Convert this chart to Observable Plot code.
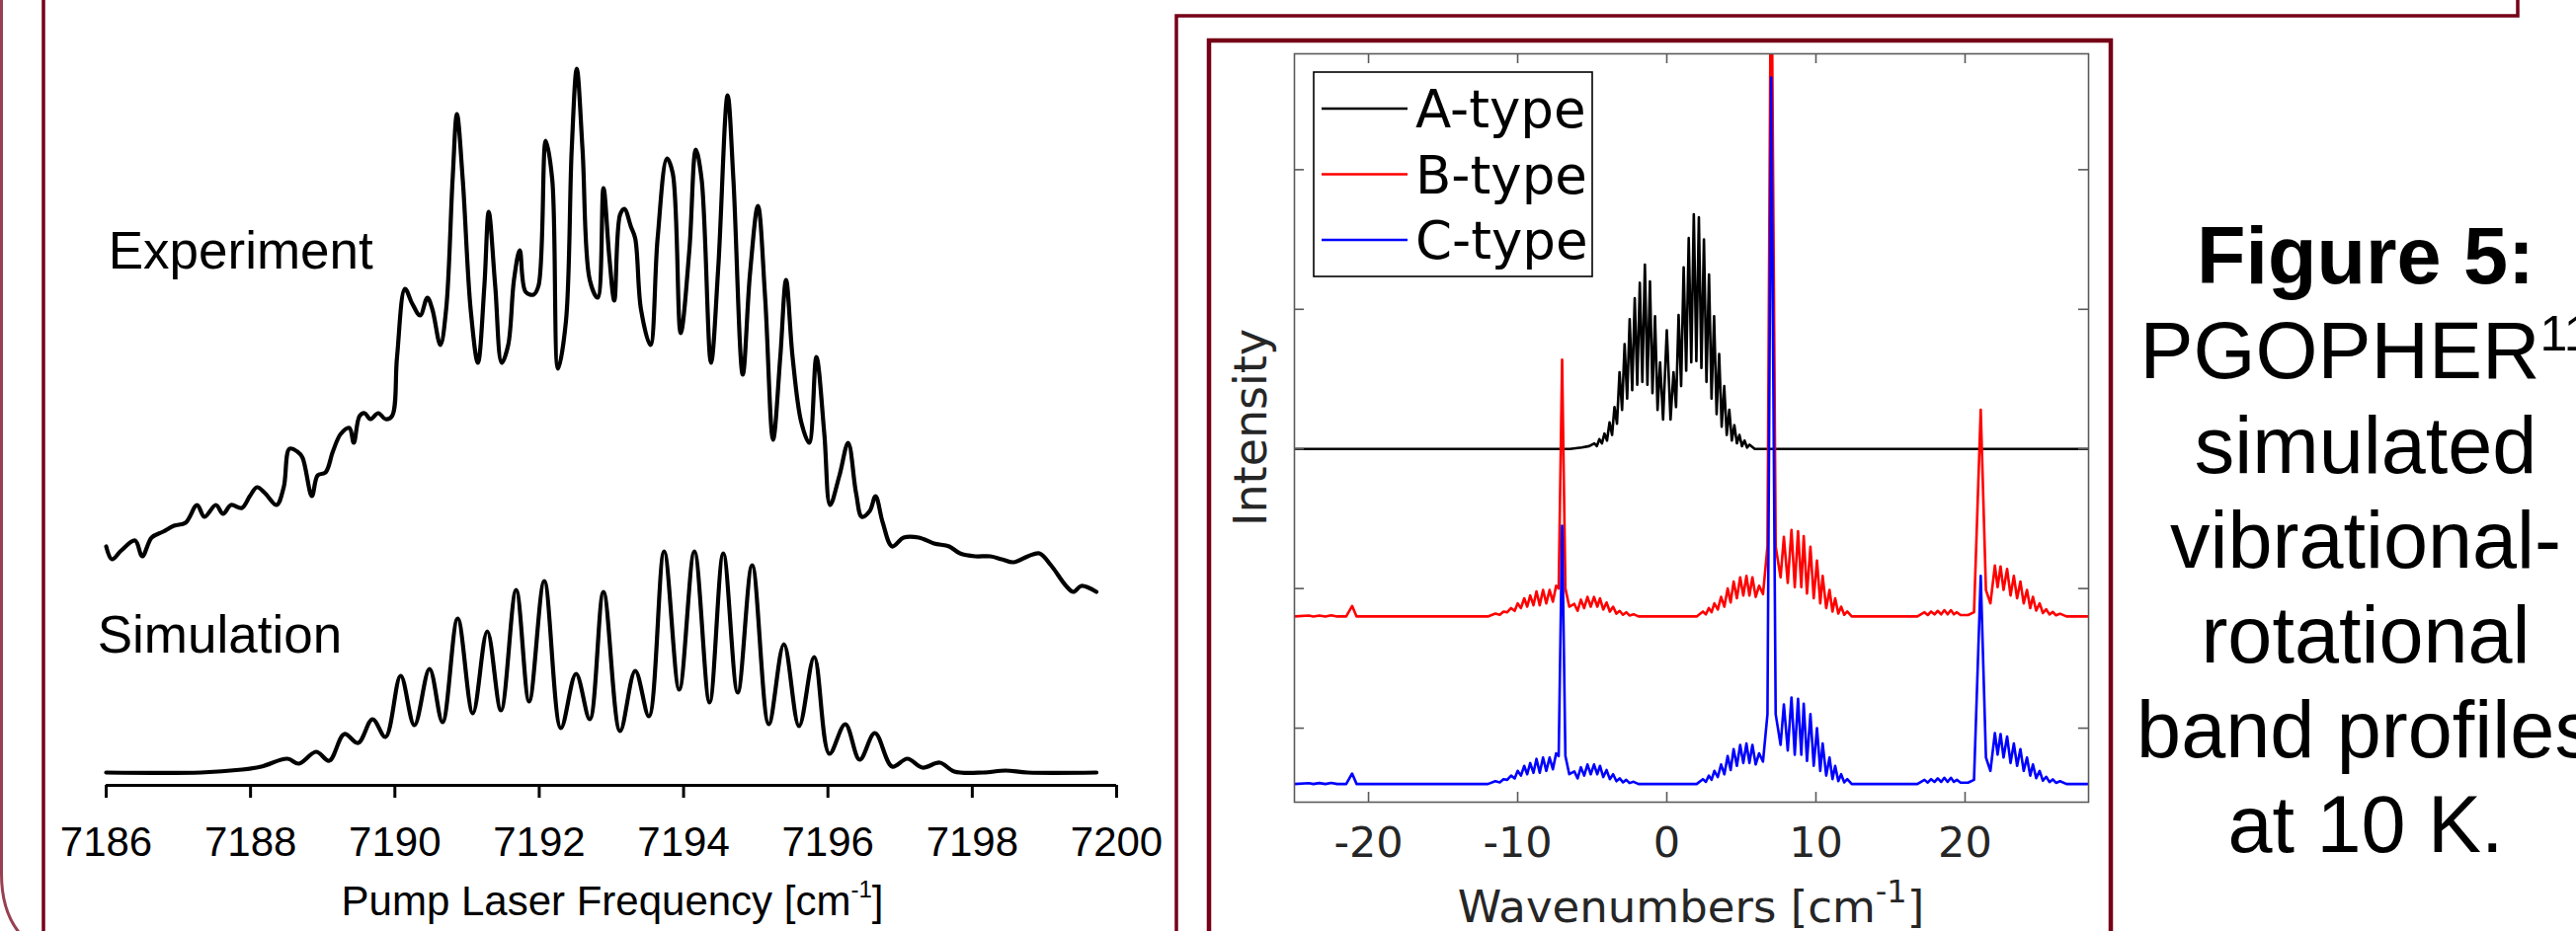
<!DOCTYPE html>
<html><head><meta charset="utf-8">
<script src="https://cdn.jsdelivr.net/npm/d3@7"></script>
<script src="https://cdn.jsdelivr.net/npm/@observablehq/plot@0.6"></script>
<style>
html,body{margin:0;padding:0;background:#fff;}
#page{position:relative;width:2608px;height:943px;overflow:hidden;background:#fff;}
#caption{position:absolute;left:2145px;width:500px;top:211px;text-align:center;font-family:"Liberation Sans",Arial,sans-serif;font-size:81px;line-height:96px;color:#000;white-space:nowrap;}
#caption sup{font-size:50px;line-height:0;vertical-align:super;}
</style></head><body><div id="page"></div>
<script>
// ---------- Left figure: experiment vs simulation ----------
const pumpTicks = [7186,7188,7190,7192,7194,7196,7198,7200];
const traceNames = ["Experiment","Simulation"];
const traceLabelX = [7186.03, 7185.88];
const traceLabelY = [5.27, 1.38];
const experiment = [[7186.00,2.29],[7186.08,2.16],[7186.21,2.25],[7186.40,2.35],[7186.50,2.19],[7186.63,2.38],[7186.79,2.44],[7186.94,2.50],[7187.10,2.53],[7187.26,2.71],[7187.36,2.59],[7187.52,2.71],[7187.62,2.62],[7187.73,2.71],[7187.88,2.68],[7187.99,2.80],[7188.09,2.89],[7188.20,2.83],[7188.36,2.71],[7188.46,2.89],[7188.54,3.28],[7188.65,3.25],[7188.72,3.19],[7188.85,2.80],[7188.93,3.01],[7189.04,3.04],[7189.14,3.25],[7189.25,3.43],[7189.37,3.49],[7189.43,3.34],[7189.51,3.61],[7189.58,3.64],[7189.66,3.58],[7189.77,3.64],[7189.87,3.58],[7189.96,3.61],[7190.03,4.21],[7190.14,4.90],[7190.24,4.75],[7190.35,4.63],[7190.45,4.81],[7190.52,4.69],[7190.63,4.33],[7190.71,4.69],[7190.80,6.01],[7190.86,6.67],[7190.94,6.01],[7191.05,4.69],[7191.15,4.15],[7191.24,4.93],[7191.30,5.68],[7191.39,4.93],[7191.48,4.15],[7191.57,4.33],[7191.65,4.99],[7191.73,5.29],[7191.81,4.87],[7191.92,4.84],[7191.99,4.93],[7192.09,6.40],[7192.18,6.01],[7192.26,4.09],[7192.37,4.57],[7192.45,6.31],[7192.52,7.13],[7192.60,6.31],[7192.70,4.99],[7192.81,4.81],[7192.89,5.92],[7192.97,5.23],[7193.04,4.78],[7193.12,5.65],[7193.18,5.71],[7193.27,5.53],[7193.33,5.41],[7193.41,4.69],[7193.54,4.33],[7193.64,5.41],[7193.77,6.22],[7193.85,6.07],[7193.96,4.45],[7194.08,5.29],[7194.17,6.31],[7194.25,6.01],[7194.38,4.15],[7194.48,5.11],[7194.61,6.86],[7194.69,6.01],[7194.82,4.03],[7194.92,5.05],[7195.03,5.74],[7195.13,4.81],[7195.24,3.37],[7195.34,4.21],[7195.42,4.99],[7195.51,4.21],[7195.63,3.55],[7195.74,3.34],[7195.84,4.21],[7195.95,3.43],[7196.03,2.71],[7196.16,3.01],[7196.28,3.34],[7196.39,2.83],[7196.47,2.59],[7196.58,2.65],[7196.66,2.80],[7196.76,2.53],[7196.89,2.29],[7197.05,2.38],[7197.26,2.38],[7197.47,2.32],[7197.68,2.29],[7197.83,2.22],[7198.04,2.19],[7198.25,2.19],[7198.41,2.16],[7198.57,2.13],[7198.77,2.19],[7198.93,2.22],[7199.09,2.10],[7199.30,1.89],[7199.40,1.83],[7199.51,1.89],[7199.72,1.83]];
const simulation = [[7186.00,0],[7187.31,0],[7187.88,0.03],[7188.15,0.06],[7188.51,0.14],[7188.67,0.09],[7188.91,0.21],[7189.09,0.12],[7189.30,0.39],[7189.49,0.30],[7189.69,0.54],[7189.87,0.36],[7190.08,0.98],[7190.27,0.48],[7190.48,1.05],[7190.66,0.51],[7190.87,1.56],[7191.08,0.60],[7191.28,1.43],[7191.47,0.63],[7191.68,1.85],[7191.86,0.72],[7192.07,1.94],[7192.30,0.45],[7192.51,1.00],[7192.70,0.54],[7192.89,1.83],[7193.12,0.42],[7193.33,1.03],[7193.52,0.57],[7193.73,2.24],[7193.94,0.84],[7194.15,2.24],[7194.36,0.71],[7194.55,2.22],[7194.75,0.81],[7194.95,2.10],[7195.18,0.49],[7195.39,1.30],[7195.60,0.47],[7195.81,1.17],[7196.02,0.19],[7196.24,0.49],[7196.44,0.13],[7196.65,0.40],[7196.89,0.06],[7197.10,0.14],[7197.31,0.05],[7197.55,0.10],[7197.75,0.01],[7198.15,0],[7198.46,0.02],[7198.77,0],[7199.72,0]];

// ---------- Right figure: PGOPHER band types ----------
const bandNames = ["A-type","B-type","C-type"];
const bandColors = ["black","red","blue"];
const wnTicks = [-20,-10,0,10,20];
const intensityTicks = [1,2,3,4,5];
const aType = [[-24.97,3.0],[-6.5,3.0],[-5.7,3.01],[-5.2,3.02],[-4.86,3.04],[-4.69,3.02],[-4.52,3.07],[-4.35,3.04],[-4.18,3.11],[-4.01,3.06],[-3.84,3.19],[-3.67,3.10],[-3.51,3.30],[-3.34,3.18],[-3.17,3.55],[-3.00,3.28],[-2.83,3.75],[-2.66,3.36],[-2.49,3.93],[-2.32,3.42],[-2.15,4.08],[-1.98,3.46],[-1.81,4.19],[-1.64,3.48],[-1.47,4.32],[-1.30,3.46],[-1.13,4.20],[-0.96,3.40],[-0.79,3.95],[-0.62,3.28],[-0.45,3.62],[-0.25,3.21],[0.0,3.85],[0.25,3.21],[0.45,3.55],[0.62,3.30],[0.79,3.96],[0.96,3.45],[1.13,4.30],[1.30,3.56],[1.47,4.51],[1.64,3.62],[1.81,4.68],[1.98,3.63],[2.15,4.66],[2.32,3.58],[2.49,4.50],[2.66,3.48],[2.83,4.25],[3.00,3.36],[3.17,3.95],[3.34,3.25],[3.51,3.68],[3.68,3.16],[3.85,3.45],[4.02,3.10],[4.19,3.28],[4.36,3.06],[4.53,3.17],[4.70,3.04],[4.87,3.10],[5.04,3.02],[5.21,3.06],[5.38,3.01],[5.55,3.03],[5.9,3.0],[28.28,3.0]];
const bType = [[-24.97,1.80],[-24.0,1.806],[-23.7,1.80],[-23.3,1.807],[-22.9,1.80],[-22.5,1.808],[-22.1,1.80],[-21.5,1.80],[-21.1,1.875],[-20.8,1.80],[-12.0,1.80],[-11.5,1.82],[-11.2,1.812],[-10.95,1.835],[-10.7,1.83],[-10.44,1.86],[-10.2,1.84],[-10.0,1.894],[-9.78,1.86],[-9.56,1.93],[-9.36,1.87],[-9.16,1.95],[-8.94,1.88],[-8.74,1.98],[-8.52,1.88],[-8.30,1.99],[-8.08,1.894],[-7.86,1.99],[-7.64,1.906],[-7.42,2.02],[-7.25,2.0],[-7.02,3.64],[-6.8,2.0],[-6.54,1.87],[-6.2,1.89],[-5.98,1.84],[-5.76,1.92],[-5.54,1.86],[-5.32,1.94],[-5.1,1.87],[-4.88,1.94],[-4.66,1.87],[-4.48,1.93],[-4.26,1.85],[-4.04,1.90],[-3.82,1.835],[-3.60,1.87],[-3.38,1.82],[-3.16,1.84],[-2.94,1.812],[-2.72,1.83],[-2.5,1.807],[-2.23,1.816],[-1.9,1.80],[2.0,1.80],[2.42,1.835],[2.62,1.815],[2.82,1.86],[3.0,1.83],[3.19,1.894],[3.42,1.85],[3.64,1.94],[3.86,1.87],[4.08,2.0],[4.28,1.90],[4.48,2.05],[4.70,1.93],[4.92,2.08],[5.13,1.95],[5.34,2.09],[5.54,1.95],[5.74,2.08],[5.96,1.94],[6.19,2.02],[6.45,1.96],[6.75,2.3],[7.0,6.9],[7.3,2.3],[7.63,2.08],[7.85,2.37],[8.11,2.04],[8.36,2.42],[8.58,2.01],[8.80,2.41],[9.02,2.01],[9.18,2.375],[9.4,1.965],[9.63,2.30],[9.85,1.93],[10.07,2.20],[10.29,1.894],[10.45,2.09],[10.69,1.86],[10.91,1.99],[11.11,1.835],[11.29,1.93],[11.5,1.82],[11.69,1.87],[11.9,1.812],[12.1,1.835],[12.4,1.80],[16.8,1.80],[17.28,1.83],[17.5,1.81],[17.72,1.835],[17.95,1.815],[18.17,1.84],[18.4,1.815],[18.61,1.845],[18.83,1.815],[19.05,1.845],[19.25,1.815],[19.45,1.83],[19.7,1.81],[20.2,1.81],[20.6,1.83],[21.05,3.28],[21.4,1.99],[21.7,1.894],[22.0,2.165],[22.18,2.01],[22.38,2.158],[22.58,1.99],[22.82,2.14],[23.05,1.95],[23.27,2.09],[23.49,1.93],[23.71,2.05],[23.93,1.894],[24.15,1.99],[24.37,1.86],[24.55,1.94],[24.77,1.842],[25.0,1.894],[25.22,1.824],[25.44,1.852],[25.66,1.814],[25.88,1.833],[26.1,1.808],[26.37,1.82],[26.8,1.80],[28.28,1.80]];
const cType = [[-24.97,0.60],[-24.0,0.606],[-23.7,0.60],[-23.3,0.607],[-22.9,0.60],[-22.5,0.608],[-22.1,0.60],[-21.5,0.60],[-21.1,0.675],[-20.8,0.60],[-12.0,0.60],[-11.5,0.62],[-11.2,0.612],[-10.95,0.635],[-10.7,0.63],[-10.44,0.66],[-10.2,0.64],[-10.0,0.694],[-9.78,0.66],[-9.56,0.73],[-9.36,0.67],[-9.16,0.75],[-8.94,0.68],[-8.74,0.78],[-8.52,0.68],[-8.30,0.79],[-8.08,0.694],[-7.86,0.79],[-7.64,0.706],[-7.42,0.82],[-7.25,0.80],[-7.02,2.45],[-6.8,0.80],[-6.54,0.67],[-6.2,0.69],[-5.98,0.64],[-5.76,0.72],[-5.54,0.66],[-5.32,0.74],[-5.1,0.67],[-4.88,0.74],[-4.66,0.67],[-4.48,0.73],[-4.26,0.65],[-4.04,0.70],[-3.82,0.635],[-3.60,0.67],[-3.38,0.62],[-3.16,0.64],[-2.94,0.612],[-2.72,0.63],[-2.5,0.607],[-2.23,0.616],[-1.9,0.60],[2.0,0.60],[2.42,0.635],[2.62,0.615],[2.82,0.66],[3.0,0.63],[3.19,0.694],[3.42,0.65],[3.64,0.74],[3.86,0.67],[4.08,0.80],[4.28,0.70],[4.48,0.85],[4.70,0.73],[4.92,0.88],[5.13,0.75],[5.34,0.89],[5.54,0.75],[5.74,0.88],[5.96,0.74],[6.19,0.82],[6.45,0.76],[6.75,1.10],[7.0,5.66],[7.3,1.10],[7.63,0.88],[7.85,1.17],[8.11,0.84],[8.36,1.22],[8.58,0.81],[8.80,1.21],[9.02,0.81],[9.18,1.175],[9.4,0.765],[9.63,1.10],[9.85,0.73],[10.07,1.00],[10.29,0.694],[10.45,0.89],[10.69,0.66],[10.91,0.79],[11.11,0.635],[11.29,0.73],[11.5,0.62],[11.69,0.67],[11.9,0.612],[12.1,0.635],[12.4,0.60],[16.8,0.60],[17.28,0.63],[17.5,0.61],[17.72,0.635],[17.95,0.615],[18.17,0.64],[18.4,0.615],[18.61,0.645],[18.83,0.615],[19.05,0.645],[19.25,0.615],[19.45,0.63],[19.7,0.61],[20.2,0.61],[20.6,0.63],[21.05,2.09],[21.4,0.79],[21.7,0.694],[22.0,0.965],[22.18,0.81],[22.38,0.958],[22.58,0.79],[22.82,0.94],[23.05,0.75],[23.27,0.89],[23.49,0.73],[23.71,0.85],[23.93,0.694],[24.15,0.79],[24.37,0.66],[24.55,0.74],[24.77,0.642],[25.0,0.694],[25.22,0.624],[25.44,0.652],[25.66,0.614],[25.88,0.633],[26.1,0.608],[26.37,0.62],[26.8,0.60],[28.28,0.60]];
const captionLines = ["Figure 5:", "PGOPHER", "simulated", "vibrational-", "rotational", "band profiles", "at 10 K."];
const captionRef = "11";

// ---------- Layout ----------
const W = 2608, H = 943;
const maroon = "#760017";
const page = document.getElementById("page");
const abs = {position: "absolute", left: "0px", top: "0px", background: "transparent", overflow: "visible", maxWidth: "none"};

// panel borders
const border = d3.select(page).append("svg").attr("width", W).attr("height", H)
  .style("position", "absolute").style("left", "0px").style("top", "0px");
border.append("path").attr("d", "M1.5,0 V885 Q1.5,940 40,962").attr("fill", "none").attr("stroke", maroon).attr("stroke-width", 3).attr("opacity", 0.75);
border.append("path").attr("d", "M44,0 V943").attr("fill", "none").attr("stroke", maroon).attr("stroke-width", 3.5);
border.append("path").attr("d", "M1191,943 V16 H2549 V0").attr("fill", "none").attr("stroke", maroon).attr("stroke-width", 3.5);
border.append("path").attr("d", "M1224,943 V41 H2137 V943").attr("fill", "none").attr("stroke", maroon).attr("stroke-width", 4.5);

// left chart
const leftY = [-0.13, 7.42];
const left = Plot.plot({
  width: W, height: H,
  marginLeft: 107, marginRight: W - 1130, marginTop: 40, marginBottom: H - 795,
  style: {...abs, fontFamily: "'Liberation Sans', Arial, sans-serif", color: "black"},
  x: {domain: [pumpTicks[0], pumpTicks[pumpTicks.length - 1]]},
  y: {domain: leftY, axis: null},
  marks: [
    Plot.ruleY([leftY[0]], {stroke: "black", strokeWidth: 3}),
    Plot.axisX({ticks: pumpTicks, tickSize: 13, tickPadding: 29, fontSize: 42, strokeWidth: 3, tickFormat: d => String(d), label: null, color: "black"}),
    Plot.line(experiment, {x: d => d[0], y: d => d[1], stroke: "black", strokeWidth: 4.2, curve: "catmull-rom"}),
    Plot.line(simulation, {x: d => d[0], y: d => d[1], stroke: "black", strokeWidth: 4.2, curve: "catmull-rom"}),
    Plot.text(traceNames, {x: (d, i) => traceLabelX[i], y: (d, i) => traceLabelY[i], text: d => d, textAnchor: "start", lineAnchor: "middle", fontSize: 53, fill: "black"})
  ]
});
page.appendChild(left);
const lsv = d3.select(left);
const lt = lsv.append("text").attr("x", 620).attr("y", 927).attr("text-anchor", "middle")
  .attr("font-size", 42).attr("fill", "black").attr("font-family", "'Liberation Sans', Arial, sans-serif");
lt.append("tspan").text("Pump Laser Frequency [cm");
lt.append("tspan").attr("font-size", 24).attr("dy", -18).text("-1");
lt.append("tspan").attr("dy", 18).text("]");

// right chart
const rightY = [0.47, 5.83];
const rightX = [-24.97, 28.28];
const axisGray = "#5a5a5a";
const bands = [aType, bType, cType];
const right = Plot.plot({
  width: W, height: H,
  marginLeft: 1310, marginRight: W - 2114, marginTop: 54, marginBottom: H - 812,
  style: {...abs, fontFamily: "'DejaVu Sans', sans-serif", color: "#262626"},
  x: {domain: rightX},
  y: {domain: rightY, axis: null},
  marks: [
    ...bands.map((b, i) => Plot.line(b, {x: d => d[0], y: d => d[1], stroke: bandColors[i], strokeWidth: 2.6, clip: true})),
    Plot.frame({stroke: axisGray, strokeWidth: 1.6}),
    Plot.tickX(wnTicks, {x: d => d, insetTop: 748, stroke: axisGray, strokeWidth: 1.6}),
    Plot.tickX(wnTicks, {x: d => d, insetBottom: 748, stroke: axisGray, strokeWidth: 1.6}),
    Plot.tickY(intensityTicks, {y: d => d, insetRight: 794, stroke: axisGray, strokeWidth: 1.6}),
    Plot.tickY(intensityTicks, {y: d => d, insetLeft: 794, stroke: axisGray, strokeWidth: 1.6}),
    Plot.axisX({ticks: wnTicks, tickSize: 0, tickPadding: 25, fontSize: 43, tickFormat: d => String(d), label: null, color: "#262626"})
  ]
});
page.appendChild(right);
const rsv = d3.select(right);
// x label
const rt = rsv.append("text").attr("x", 1712).attr("y", 934).attr("text-anchor", "middle")
  .attr("font-size", 45).attr("fill", "#262626").attr("font-family", "'DejaVu Sans', sans-serif");
rt.append("tspan").text("Wavenumbers [cm");
rt.append("tspan").attr("font-size", 32).attr("dy", -20).text("-1");
rt.append("tspan").attr("dy", 20).text("]");
// y label
rsv.append("text").attr("transform", "translate(1282,433) rotate(-90)").attr("text-anchor", "middle")
  .attr("font-size", 46).attr("fill", "#262626").attr("font-family", "'DejaVu Sans', sans-serif").text("Intensity");
// legend
const lg = rsv.append("g").attr("font-family", "'DejaVu Sans', sans-serif").attr("text-anchor", "start");
lg.append("rect").attr("x", 1330).attr("y", 73).attr("width", 282).attr("height", 207)
  .attr("fill", "white").attr("stroke", "black").attr("stroke-width", 1.6);
bandNames.forEach((n, i) => {
  const yy = 110 + i * 66.5;
  lg.append("line").attr("x1", 1338).attr("x2", 1425).attr("y1", yy).attr("y2", yy)
    .attr("stroke", bandColors[i]).attr("stroke-width", 2.6);
  lg.append("text").attr("x", 1433).attr("y", yy).attr("dy", "0.36em").attr("text-anchor", "start")
    .attr("font-size", 53).attr("fill", "black").text(n);
});

// caption
const cap = document.createElement("div");
cap.id = "caption";
captionLines.forEach((line, i) => {
  const d = document.createElement("div");
  if (i === 0) d.style.fontWeight = "bold";
  d.textContent = line;
  if (i === 1) { const s = document.createElement("sup"); s.textContent = captionRef; d.appendChild(s); }
  cap.appendChild(d);
});
page.appendChild(cap);
</script></body></html>
